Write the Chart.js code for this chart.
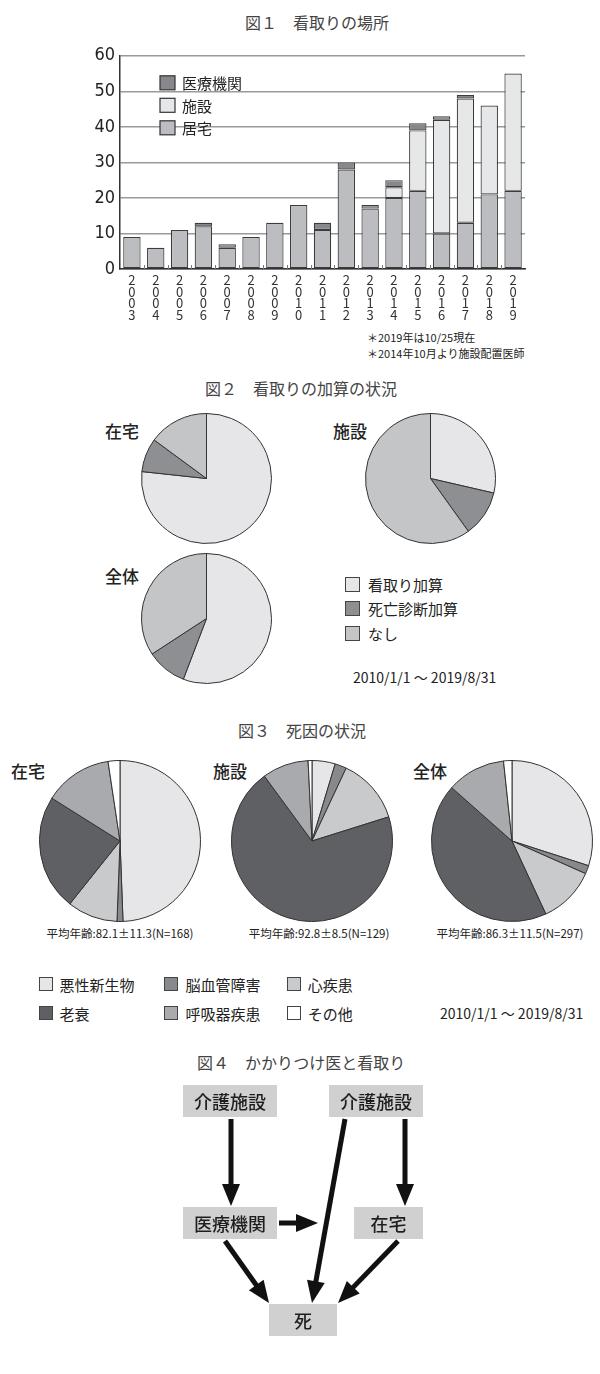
<!DOCTYPE html>
<html>
<head>
<meta charset="utf-8">
<script src="https://cdn.jsdelivr.net/npm/chart.js@4"></script>
<style>
body { margin: 0; background: #fff; width: 600px; height: 1374px; position: relative; overflow: hidden;
       font-family: "Noto Sans CJK JP", sans-serif; color: #222; }
.t { position: absolute; white-space: nowrap; line-height: 1; }
.sw { position: absolute; box-sizing: border-box; border: 1px solid #444; }
</style>
</head>
<body>
<script>
// 図1 看取りの場所
var years = ['2003','2004','2005','2006','2007','2008','2009','2010','2011','2012','2013','2014','2015','2016','2017','2018','2019'];
var kyotaku  = [9, 6, 11, 12, 6, 9, 13, 18, 11, 28, 17, 20, 22, 10, 13, 21, 22];
var shisetsu = [0, 0, 0, 0, 0, 0, 0, 0, 0, 0, 0, 3, 17, 32, 35, 25, 33];
var iryo     = [0, 0, 0, 1, 1, 0, 0, 0, 2, 2, 1, 2, 2, 1, 1, 0, 0];
var placeLabels = ['居宅', '施設', '医療機関'];
var placeColors = ['#bcbdc0', '#e6e7e8', '#87888c'];

// 図2 看取りの加算の状況 (%)
var kasanLabels = ['看取り加算', '死亡診断加算', 'なし'];
var kasanColors = ['#e6e6e8', '#8e8f93', '#c4c5c7'];
var kasanZaitaku  = [76.7, 8.4, 14.9];
var kasanShisetsu = [28.6, 11.5, 59.9];
var kasanZentai   = [55.8, 10.0, 34.2];

// 図3 死因の状況 (人数)
var causeLabels = ['悪性新生物', '脳血管障害', '心疾患', '老衰', '呼吸器疾患', 'その他'];
var causeColors = ['#e6e6e8', '#88898d', '#c9cacc', '#5f6063', '#a9aaad', '#ffffff'];
var causeZaitaku  = [83, 2, 17, 39, 23, 4];
var causeShisetsu = [6, 3, 17, 90, 12, 1];
var causeZentai   = [89, 5, 34, 129, 35, 5];

// 図4 かかりつけ医と看取り
var flowNodes = ['介護施設', '介護施設', '医療機関', '在宅', '死'];
var nodeBoxes = [[183,1085,277,1117],[329,1085,423,1117],[183,1207,277,1239],[354,1207,423,1239],[269,1304,337,1336]];
var arrowLines = [[231,1119,231,1206],[405,1119,405,1206],[279,1223,318,1223],[345,1119,312,1303],[225,1241,269,1303],[398,1241,338,1303]];

Chart.defaults.font.family = '"Noto Sans CJK JP", sans-serif';
Chart.defaults.animation = false;
Chart.defaults.plugins.legend.display = false;
Chart.defaults.plugins.tooltip.enabled = false;

function place(id, left, top, w, h) {
    var c = document.createElement('canvas');
    c.id = id;
    c.width = w; c.height = h;
    c.style.position = 'absolute';
    c.style.left = left + 'px'; c.style.top = top + 'px';
    c.style.width = w + 'px'; c.style.height = h + 'px';
    document.body.appendChild(c);
    return c;
}

function text(str, x, y, size, align, extra) {
    var d = document.createElement('div');
    d.className = 't';
    d.textContent = str;
    d.style.left = x + 'px';
    d.style.top = y + 'px';
    d.style.fontSize = size + 'px';
    d.style.transform = align == 'center' ? 'translate(-50%,-50%)' : 'translate(0,-50%)';
    if (extra) d.setAttribute('style', d.getAttribute('style') + extra);
    document.body.appendChild(d);
}

function swatch(x, y, size, color) {
    var s = document.createElement('div');
    s.className = 'sw';
    s.style.left = x + 'px';
    s.style.top = (y - size / 2) + 'px';
    s.style.width = size + 'px';
    s.style.height = size + 'px';
    s.style.background = color;
    document.body.appendChild(s);
}

// legend inside the bar chart + vertical year labels under the x axis
var barLegend = {
    id: 'barLegend',
    afterDatasetsDraw: function (chart) {
        var ctx = chart.ctx;
        var area = chart.chartArea;
        var ds = chart.data.datasets;
        ctx.save();
        ctx.font = '15px "Noto Sans CJK JP"';
        ctx.textBaseline = 'middle';
        for (var i = 0; i < ds.length; i++) {
            var d = ds[ds.length - 1 - i];
            var y = area.top + 20 + i * 22.5;
            ctx.fillStyle = d.backgroundColor;
            ctx.fillRect(area.left + 40, y, 15, 14);
            ctx.strokeStyle = '#333';
            ctx.lineWidth = 1.2;
            ctx.strokeRect(area.left + 40, y, 15, 14);
            ctx.fillStyle = '#222';
            ctx.fillText(d.label, area.left + 62, y + 7.5);
        }
        ctx.restore();
    },
    afterDraw: function (chart) {
        var ctx = chart.ctx;
        var xs = chart.scales.x;
        var bottom = chart.chartArea.bottom;
        var labels = chart.data.labels;
        ctx.save();
        // small inner ticks between the bars
        ctx.strokeStyle = '#777';
        ctx.lineWidth = 1;
        for (var k = 1; k < labels.length; k++) {
            var mx = Math.round((xs.getPixelForTick(k - 1) + xs.getPixelForTick(k)) / 2) + 0.5;
            ctx.beginPath();
            ctx.moveTo(mx, bottom);
            ctx.lineTo(mx, bottom - 4);
            ctx.stroke();
        }
        ctx.font = '13px "Noto Sans CJK JP"';
        ctx.fillStyle = '#333';
        ctx.textAlign = 'center';
        ctx.textBaseline = 'middle';
        for (var i = 0; i < labels.length; i++) {
            var x = xs.getPixelForTick(i);
            var chars = labels[i].split('');
            for (var c = 0; c < chars.length; c++) {
                ctx.fillText(chars[c], x, bottom + 11 + c * 11.7);
            }
        }
        ctx.restore();
    }
};

text('図１　看取りの場所', 245, 22, 16, 'left', 'color:#444;');
new Chart(place('fig1', 0, 40, 600, 284), {
    type: 'bar',
    data: {
        labels: years,
        datasets: [
            { label: placeLabels[0], data: kyotaku, backgroundColor: placeColors[0] },
            { label: placeLabels[1], data: shisetsu, backgroundColor: placeColors[1] },
            { label: placeLabels[2], data: iryo, backgroundColor: placeColors[2] }
        ]
    },
    options: {
        responsive: false,
        layout: { padding: { left: 80, right: 75, top: 12, bottom: 0 } },
        datasets: { bar: { borderColor: '#3c3c3c', borderWidth: 1.2, borderSkipped: false, barPercentage: 0.73, categoryPercentage: 1 } },
        scales: {
            x: {
                stacked: true,
                grid: { display: false },
                border: { color: '#333', width: 1.5 },
                ticks: { display: false },
                afterFit: function (s) { s.height = 55; }
            },
            y: {
                stacked: true, min: 0, max: 60,
                ticks: { stepSize: 10, color: '#222', padding: 5, font: { family: '"Liberation Sans Narrow", "DejaVu Sans Condensed", sans-serif', size: 18 } },
                grid: { color: '#9a9a9a', lineWidth: 1.5, drawTicks: false },
                border: { color: '#333', width: 1.5 },
                afterFit: function (s) { s.width = 40; }
            }
        }
    },
    plugins: [barLegend]
});
text('＊2019年は10/25現在', 367, 337, 11, 'left');
text('＊2014年10月より施設配置医師', 367, 353, 11, 'left');

function pie(id, cx, cy, r, values, labels, colors) {
    var s = 2 * r + 2;
    new Chart(place(id, cx - s / 2, cy - s / 2, s, s), {
        type: 'pie',
        data: { labels: labels, datasets: [{ data: values, backgroundColor: colors, borderColor: '#333', borderWidth: 1 }] },
        options: { responsive: false, layout: { padding: 0 } }
    });
}

// 図2
text('図２　看取りの加算の状況', 205, 388, 16, 'left', 'color:#444;');
text('在宅', 105, 430, 17, 'left', 'font-weight:500;');
text('施設', 333, 430, 17, 'left', 'font-weight:500;');
text('全体', 105, 575, 17, 'left', 'font-weight:500;');
pie('p2a', 206.7, 478.3, 64.5, kasanZaitaku, kasanLabels, kasanColors);
pie('p2b', 430, 478.3, 64.5, kasanShisetsu, kasanLabels, kasanColors);
pie('p2c', 206.7, 618.3, 64.5, kasanZentai, kasanLabels, kasanColors);
var k2y = [584, 608, 633];
for (var i = 0; i < kasanLabels.length; i++) {
    swatch(345, k2y[i], 15, kasanColors[i]);
    text(kasanLabels[i], 368, k2y[i], 15, 'left');
}
text('2010/1/1 ～ 2019/8/31', 353, 677, 14, 'left');

// 図3
text('図３　死因の状況', 238, 730, 16, 'left', 'color:#444;');
text('在宅', 11, 770, 17, 'left', 'font-weight:500;');
text('施設', 213, 770, 17, 'left', 'font-weight:500;');
text('全体', 413, 770, 17, 'left', 'font-weight:500;');
pie('p3a', 120.4, 840.7, 80, causeZaitaku, causeLabels, causeColors);
pie('p3b', 312.3, 840.7, 80, causeShisetsu, causeLabels, causeColors);
pie('p3c', 512.3, 840.7, 80, causeZentai, causeLabels, causeColors);
text('平均年齢:82.1±11.3(N=168)', 120, 934, 11.5, 'center');
text('平均年齢:92.8±8.5(N=129)', 319, 934, 11.5, 'center');
text('平均年齢:86.3±11.5(N=297)', 510, 934, 11.5, 'center');
var c3x = [38.5, 163.5, 286.5], c3t = [59.6, 185.4, 307.7], c3y = [984, 1013];
for (var j = 0; j < causeLabels.length; j++) {
    var col = j % 3, row = Math.floor(j / 3);
    swatch(c3x[col], c3y[row], 14, causeColors[j]);
    text(causeLabels[j], c3t[col], c3y[row], 15, 'left');
}
text('2010/1/1 ～ 2019/8/31', 440, 1013, 14, 'left');

// 図4
text('図４　かかりつけ医と看取り', 197, 1062, 16, 'left', 'color:#444;');

var flowPlugin = {
    id: 'flow',
    beforeDatasetsDraw: function (chart) {
        var ctx = chart.ctx, sx = chart.scales.x, sy = chart.scales.y;
        ctx.save();
        ctx.font = '500 18px "Noto Sans CJK JP"';
        ctx.textAlign = 'center';
        ctx.textBaseline = 'middle';
        for (var i = 0; i < nodeBoxes.length; i++) {
            var b = nodeBoxes[i];
            var x1 = sx.getPixelForValue(b[0]), y1 = sy.getPixelForValue(b[1]);
            var x2 = sx.getPixelForValue(b[2]), y2 = sy.getPixelForValue(b[3]);
            ctx.fillStyle = '#d0d0d0';
            ctx.fillRect(x1, y1, x2 - x1, y2 - y1);
            ctx.fillStyle = '#1e1e1e';
            ctx.fillText(flowNodes[i], (x1 + x2) / 2, (y1 + y2) / 2 + 1);
        }
        ctx.restore();
    },
    afterDatasetsDraw: function (chart) {
        var ctx = chart.ctx, sx = chart.scales.x, sy = chart.scales.y;
        ctx.save();
        ctx.fillStyle = '#111';
        for (var i = 0; i < arrowLines.length; i++) {
            var a = arrowLines[i];
            var ax = sx.getPixelForValue(a[0]), ay = sy.getPixelForValue(a[1]);
            var tx = sx.getPixelForValue(a[2]), ty = sy.getPixelForValue(a[3]);
            var ang = Math.atan2(ty - ay, tx - ax);
            var len = 22, half = 9;
            var bx = tx - Math.cos(ang) * len, by = ty - Math.sin(ang) * len;
            ctx.beginPath();
            ctx.moveTo(tx, ty);
            ctx.lineTo(bx - Math.sin(ang) * half, by + Math.cos(ang) * half);
            ctx.lineTo(bx + Math.sin(ang) * half, by - Math.cos(ang) * half);
            ctx.closePath();
            ctx.fill();
        }
        ctx.restore();
    }
};

var arrowSets = arrowLines.map(function (a) {
    var ang = Math.atan2(a[3] - a[1], a[2] - a[0]);
    return {
        data: [{ x: a[0], y: a[1] }, { x: a[2] - Math.cos(ang) * 12, y: a[3] - Math.sin(ang) * 12 }],
        showLine: true, borderColor: '#111', borderWidth: 5, pointRadius: 0, borderCapStyle: 'butt'
    };
});

new Chart(place('fig4', 0, 1040, 600, 334), {
    type: 'scatter',
    data: { datasets: arrowSets },
    options: {
        responsive: false,
        layout: { padding: 0 },
        scales: {
            x: { type: 'linear', min: 0, max: 600, display: false },
            y: { type: 'linear', min: 1040, max: 1374, reverse: true, display: false }
        }
    },
    plugins: [flowPlugin]
});
</script>
</body>
</html>
